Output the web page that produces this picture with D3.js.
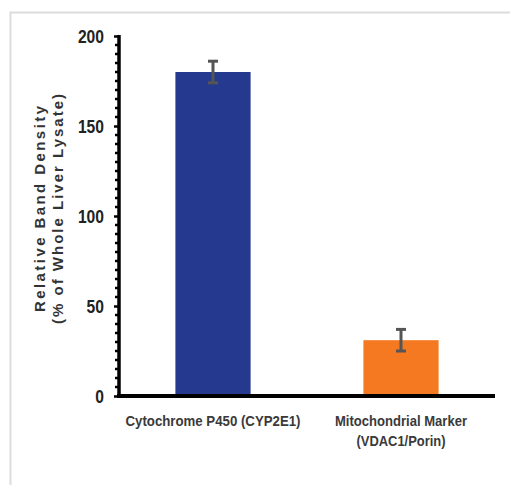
<!DOCTYPE html>
<html>
<head>
<meta charset="utf-8">
<script src="https://cdn.jsdelivr.net/npm/d3@7"></script>
<style>
  body { margin: 0; background: #fff; }
  svg { display: block; }
</style>
</head>
<body>
<svg id="chart" width="510" height="485"></svg>
<script>
const categories = ['Cytochrome P450 (CYP2E1)', 'Mitochondrial Marker\n(VDAC1/Porin)'];
const values = [180, 31];
const errors = [6, 6];
const barColors = ['#253a8e', '#f47920'];
const yTicks = [0, 50, 100, 150, 200];

const svg = d3.select('#chart');
const font = '"Liberation Sans", Arial, sans-serif';

// light frame around the figure
svg.append('path')
    .attr('d', 'M10.5,485 V12.5 H510')
    .attr('fill', 'none')
    .attr('stroke', '#dcdcdc')
    .attr('stroke-width', 2);

const x = d3.scaleBand()
    .domain(categories)
    .range([119, 495])
    .paddingInner(0.6)
    .paddingOuter(0.3);

const y = d3.scaleLinear()
    .domain([0, 200])
    .range([396, 36]);

// minor ticks every 5
const minor = d3.range(0, 201, 5).filter(v => v % 50 !== 0);
svg.append('g')
    .selectAll('line')
    .data(minor)
    .join('line')
    .attr('x1', 115).attr('x2', 119)
    .attr('y1', d => y(d)).attr('y2', d => y(d))
    .attr('stroke', '#000')
    .attr('stroke-width', 2.5);

// y axis
const yAxis = svg.append('g')
    .attr('transform', 'translate(119,0)')
    .call(d3.axisLeft(y).tickValues(yTicks).tickSize(5).tickPadding(10).tickSizeOuter(0));
yAxis.select('.domain').attr('stroke-width', 3.5).attr('d', 'M0,' + (y(200) - 1) + 'V' + y(0));
yAxis.selectAll('.tick line').attr('stroke-width', 2.5);
yAxis.selectAll('.tick text')
    .attr('font-family', font)
    .attr('font-weight', 'bold')
    .attr('font-size', 19)
    .attr('fill', '#222')
    .attr('textLength', d => String(d).length * 8.7)
    .attr('lengthAdjust', 'spacingAndGlyphs');

// bars
svg.append('g')
    .selectAll('rect')
    .data(values)
    .join('rect')
    .attr('x', (d, i) => x(categories[i]))
    .attr('y', d => y(d))
    .attr('width', x.bandwidth())
    .attr('height', d => y(0) - y(d))
    .attr('fill', (d, i) => barColors[i]);

// error bars
const err = svg.append('g').attr('stroke', '#555').attr('stroke-width', 3);
values.forEach((v, i) => {
    const cx = x(categories[i]) + x.bandwidth() / 2;
    err.append('line')
        .attr('x1', cx).attr('x2', cx)
        .attr('y1', y(v + errors[i])).attr('y2', y(v - errors[i]));
    err.append('line')
        .attr('x1', cx - 5).attr('x2', cx + 5)
        .attr('y1', y(v + errors[i])).attr('y2', y(v + errors[i]));
    err.append('line')
        .attr('x1', cx - 5).attr('x2', cx + 5)
        .attr('y1', y(v - errors[i])).attr('y2', y(v - errors[i]));
});

// x axis baseline
svg.append('line')
    .attr('x1', 117).attr('x2', 495)
    .attr('y1', y(0)).attr('y2', y(0))
    .attr('stroke', '#000')
    .attr('stroke-width', 4);

// category labels (widths as measured on the reference)
const labelWidths = [[175], [132, 89]];
categories.forEach((c, i) => {
    const cx = x(c) + x.bandwidth() / 2;
    const t = svg.append('text')
        .attr('y', 426)
        .attr('text-anchor', 'middle')
        .attr('font-family', font)
        .attr('font-weight', 'bold')
        .attr('font-size', 15)
        .attr('fill', '#3a3a3a');
    c.split('\n').forEach((line, k) => {
        t.append('tspan')
            .attr('x', cx)
            .attr('dy', k === 0 ? 0 : 20)
            .attr('textLength', labelWidths[i][k])
            .attr('lengthAdjust', 'spacingAndGlyphs')
            .text(line);
    });
});

// y axis title
const titleLines = ['Relative Band Density', '(% of Whole Liver Lysate)'];
const titleLen = [206, 230];
const titleX = [45, 63];
titleLines.forEach((line, k) => {
    svg.append('text')
        .attr('transform', 'translate(' + titleX[k] + ',209) rotate(-90)')
        .attr('text-anchor', 'middle')
        .attr('font-family', font)
        .attr('font-weight', 'bold')
        .attr('font-size', 15)
        .attr('fill', '#333')
        .attr('textLength', titleLen[k])
        .attr('lengthAdjust', 'spacing')
        .text(line);
});
</script>
</body>
</html>
